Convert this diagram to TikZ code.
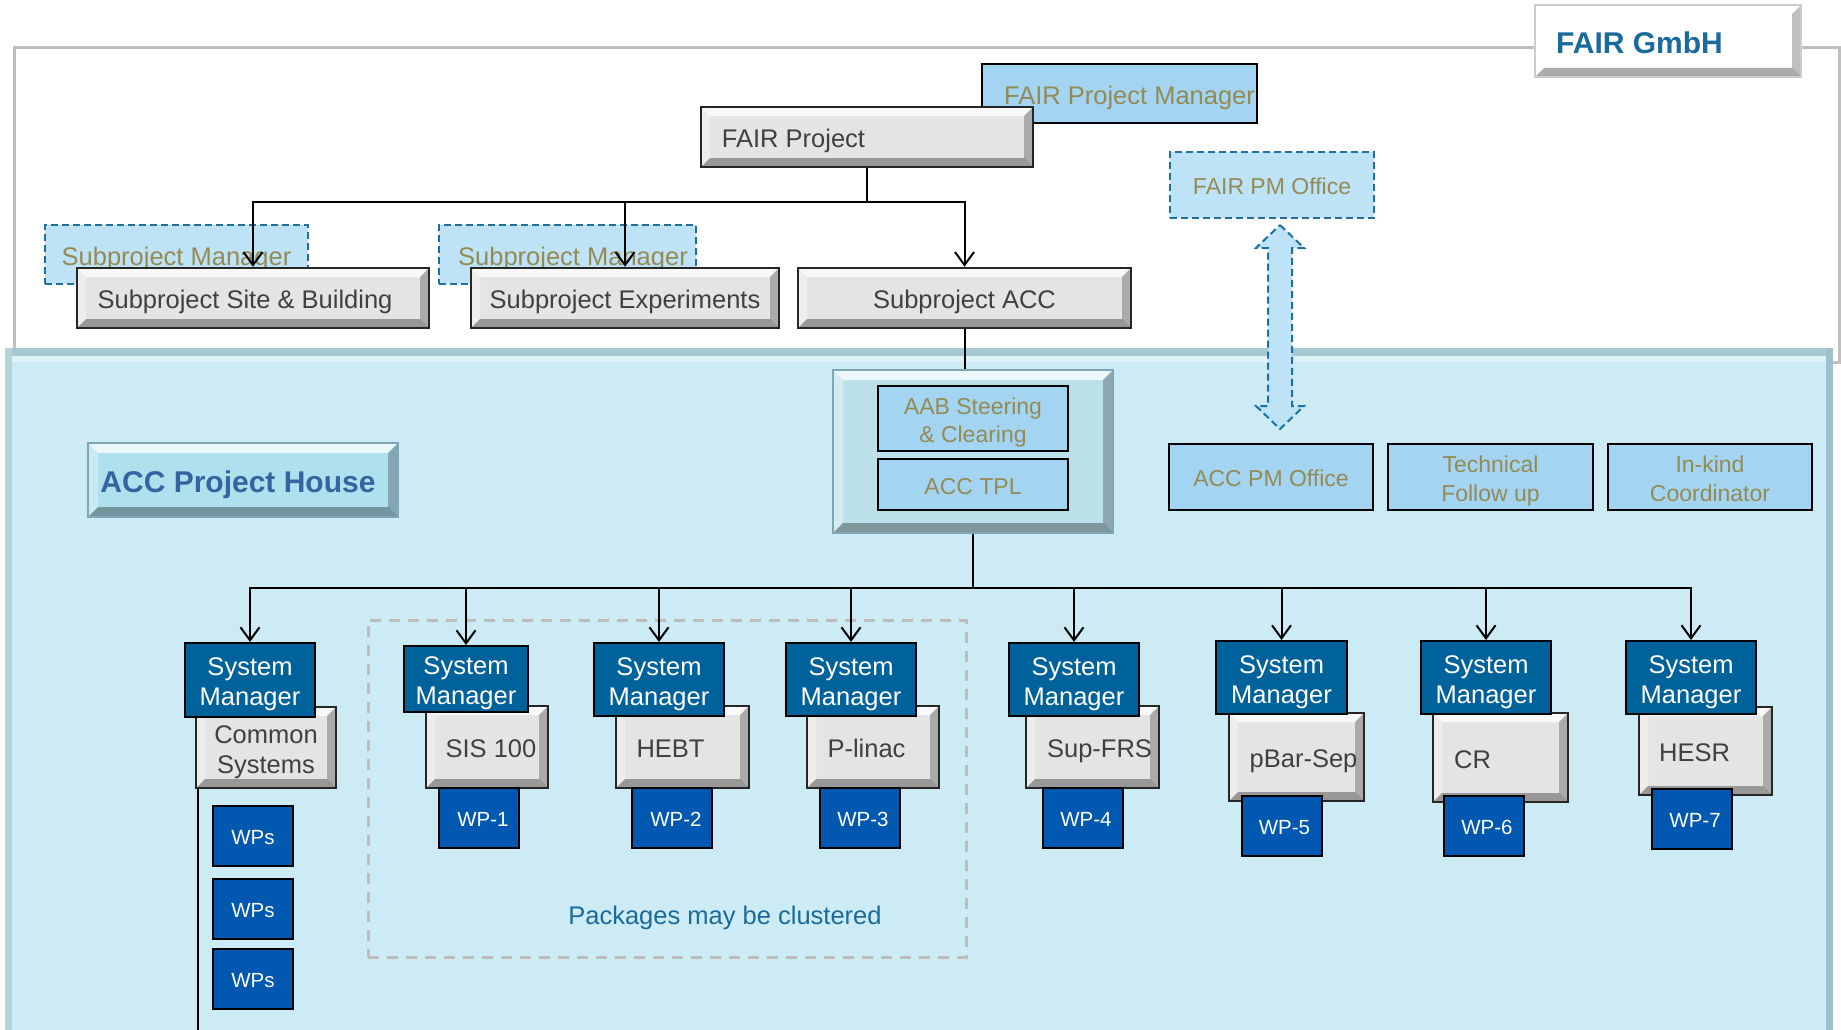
\documentclass[tikz,border=0pt]{standalone}
\usepackage{fontspec}
\setmainfont{Liberation Sans}
\usetikzlibrary{calc,arrows.meta}
\definecolor{bgblue}{HTML}{CCEBF5}
\definecolor{smblue}{HTML}{00629B}
\definecolor{wpblue}{HTML}{0058B0}
\definecolor{boxgray}{HTML}{E4E4E4}
\definecolor{ltblue}{HTML}{A3D5F3}
\definecolor{dashfill}{HTML}{BEE3F7}
\definecolor{dashline}{HTML}{1F6FA0}
\definecolor{olivetxt}{HTML}{948A54}
\definecolor{txtgray}{HTML}{404040}
\definecolor{titleblue}{HTML}{1B6A9C}
\definecolor{houseblue}{HTML}{3366A0}
\definecolor{housefill}{HTML}{AFE0EE}
\definecolor{accfill}{HTML}{BCE0EA}
\definecolor{accline}{HTML}{7DA7B4}
\definecolor{clustergray}{HTML}{BDBDBD}
\definecolor{bandA}{HTML}{A5C9D3}
\definecolor{bandB}{HTML}{DDF3F9}
\definecolor{bandC}{HTML}{B5D3DB}
\definecolor{bandD}{HTML}{9FC0CA}
\newcommand{\FontBig}{\fontsize{25.5}{30}\selectfont}
\newcommand{\FontMid}{\fontsize{23}{28.5}\selectfont}
\newcommand{\FontSm}{\fontsize{20.5}{24}\selectfont}
\newcommand{\FontTitle}{\fontsize{30}{34}\selectfont\bfseries}
\newcommand{\TopStrut}{\rule{0pt}{1.12em}}
\newcommand{\BotStrut}{\rule[-0.27em]{0pt}{0pt}}
\tikzset{
  bevel/.style={path picture={
    \coordinate (bvnw) at (path picture bounding box.north west);
    \coordinate (bvse) at (path picture bounding box.south east);
    \coordinate (bvne) at (bvnw -| bvse);
    \coordinate (bvsw) at (bvnw |- bvse);
    \fill[white,opacity=.75] (bvnw) -- (bvne) -- ($(bvne)+(-#1,#1)$) -- ($(bvnw)+(#1,#1)$) -- cycle;
    \fill[white,opacity=.35] (bvnw) -- ($(bvnw)+(#1,#1)$) -- ($(bvsw)+(#1,-#1)$) -- (bvsw) -- cycle;
    \fill[black,opacity=.33] (bvsw) -- (bvse) -- ($(bvse)+(-#1,-#1)$) -- ($(bvsw)+(#1,-#1)$) -- cycle;
    \fill[black,opacity=.25] (bvne) -- ($(bvne)+(-#1,#1)$) -- ($(bvse)+(-#1,-#1)$) -- (bvse) -- cycle;
  }},
  bevel/.default=9,
  txtbox/.style={execute at begin node=\TopStrut, execute at end node=\BotStrut},
  multiline/.style={execute at begin node={}, execute at end node={}},
  graybox/.style={txtbox, draw=black!85, line width=2.5, fill=boxgray, bevel=9, text=txtgray, font=\FontBig, inner sep=0, align=center},
  smbox/.style={multiline, draw=black, line width=2, fill=smblue, text=white, font=\FontBig, inner sep=0, align=center, minimum width=130, minimum height=73},
  wpbox/.style={txtbox, draw=black, line width=2, fill=wpblue, text=white, font=\FontSm, inner sep=0, minimum width=80, minimum height=60},
  lbbox/.style={txtbox, draw=black, line width=2, fill=ltblue, text=olivetxt, font=\FontMid, inner sep=0, align=center},
  dbox/.style={txtbox, draw=dashline, line width=2, dash pattern=on 7pt off 4pt, fill=dashfill, text=olivetxt, inner sep=0, align=center},
  conn/.style={draw=black, line width=2, -{Straight Barb[length=13pt,width=19pt]}},
  plainline/.style={draw=black, line width=2},
}
\begin{document}
\begin{tikzpicture}[x=1pt,y=-1pt]
\useasboundingbox (0,0) rectangle (1841,1030);
\fill[white] (0,0) rectangle (1841,1030);
% white FAIR GmbH frame
\draw[draw=black!25, line width=3, fill=white] (14,48) rectangle (1839,362);
% ACC region
\fill[bgblue] (5,348) rectangle (1833,1030);
\fill[bandA] (5,348) rectangle (1833,356);
\fill[bandB] (12,356) rectangle (1826,362);
\fill[bandC] (5,348) rectangle (12,1030);
\fill[bandD] (1826,348) rectangle (1833,1030);

% top level
\node[lbbox, font=\FontBig, minimum width=275, minimum height=59] (fpm) at (1119.5,93.5) {\hspace*{20pt}FAIR Project Manager};
\node[graybox, minimum width=332, minimum height=60] (fp) at (867,137) {FAIR Project\hspace*{147pt}};
\node[txtbox, draw=black!20, line width=2, fill=white, bevel=9, text=titleblue, font=\FontTitle, inner sep=0, minimum width=266, minimum height=72] (gmbh) at (1668,41) {FAIR GmbH\hspace*{57pt}};
\node[dbox, font=\FontMid, minimum width=204, minimum height=66] (fpmo) at (1272,185) {FAIR PM Office};

\node[dbox, font=\FontBig, minimum width=263, minimum height=59] (spm1) at (176.5,254.5) {Subproject Manager};
\node[dbox, font=\FontBig, minimum width=257, minimum height=59] (spm2) at (567.5,254.5) {\hspace*{11pt}Subproject Manager};
\node[graybox, minimum width=352, minimum height=60] (ssb) at (253,298) {Subproject Site \& Building\hspace*{16pt}};
\node[graybox, minimum width=308, minimum height=60] (sex) at (625,298) {Subproject Experiments};
\node[graybox, minimum width=333, minimum height=60] (sacc) at (964.5,298) {Subproject ACC};

\draw[conn] (fp.south) -- ++(0,34) -| (ssb.north);
\draw[conn] (fp.south) -- ++(0,34) -| (sex.north);
\draw[conn] (fp.south) -- ++(0,34) -| (sacc.north);

% ACC project house level
\node[txtbox, draw=accline, line width=2, fill=housefill, bevel=10, text=houseblue, font=\FontTitle, inner sep=0, minimum width=310, minimum height=74] (aph) at (243,480) {ACC Project House\hspace*{10pt}};
\node[draw=accline, line width=2.5, fill=accfill, bevel=10, inner sep=0, minimum width=280, minimum height=163] (accbox) at (973,451.5) {};
\node[lbbox, multiline, minimum width=190, minimum height=65] (aab) at (973,418.5) {\TopStrut AAB Steering\\\& Clearing\BotStrut};
\node[lbbox, minimum width=190, minimum height=51] (tpl) at (973,484.5) {ACC TPL};
\node[lbbox, minimum width=204, minimum height=66] (apmo) at (1271,477) {ACC PM Office};
\node[lbbox, multiline, minimum width=205, minimum height=66] (tfu) at (1490.5,477) {\TopStrut Technical\\Follow up\BotStrut};
\node[lbbox, multiline, minimum width=204, minimum height=66] (ikc) at (1710,477) {\TopStrut In-kind\\Coordinator\BotStrut};

\draw[plainline] (sacc.south) -- (sacc.south |- accbox.north);

% double block arrow FAIR PM Office <-> ACC PM Office
\coordinate (dat) at (1280,225);
\coordinate (dab) at (1280,429);
\draw[draw=dashline, line width=2, dash pattern=on 7pt off 4pt, fill=dashfill]
  (dat) -- ($(dat)+(24,23)$) -- ($(dat)+(12,23)$) -- ($(dab)+(12,-23)$) -- ($(dab)+(24,-23)$) -- (dab)
  -- ($(dab)+(-24,-23)$) -- ($(dab)+(-12,-23)$) -- ($(dat)+(-12,23)$) -- ($(dat)+(-24,23)$) -- cycle;

% cluster box
\node[draw=clustergray, line width=3, dash pattern=on 11pt off 8pt, inner sep=0, minimum width=598, minimum height=337] (clu) at (667,788.5) {};
\node[txtbox, text=titleblue, font=\FontBig, inner sep=0] (clutxt) at (725,914) {Packages may be clustered};

% system boxes
\node[graybox, multiline, font=\fontsize{25.5}{30.5}\selectfont, minimum width=140, minimum height=81] (cs) at (266,747.5) {\TopStrut Common\\Systems\BotStrut};
\node[graybox, minimum width=122, minimum height=82] (sis) at (487,747) {\hspace*{8pt}SIS 100};
\node[graybox, minimum width=133, minimum height=82] (hebt) at (682.5,747) {HEBT\hspace*{24pt}};
\node[graybox, minimum width=132, minimum height=82] (plinac) at (873,747) {P-linac\hspace*{13pt}};
\node[graybox, minimum width=133, minimum height=82] (supfrs) at (1092.5,747) {\hspace*{14pt}Sup-FRS};
\node[graybox, minimum width=135, minimum height=88] (pbar) at (1296.5,757) {\hspace*{14pt}pBar-Sep};
\node[graybox, minimum width=135, minimum height=89] (cr) at (1500.5,757.5) {CR\hspace*{56pt}};
\node[graybox, minimum width=133, minimum height=88] (hesr) at (1705.5,751) {HESR\hspace*{22pt}};

\node[wpbox] (wp1) at (479,818) {\hspace*{8pt}WP-1};
\node[wpbox] (wp2) at (672,817.5) {\hspace*{8pt}WP-2};
\node[wpbox] (wp3) at (860,818) {\hspace*{6pt}WP-3};
\node[wpbox] (wp4) at (1083,817.5) {\hspace*{6pt}WP-4};
\node[wpbox] (wp5) at (1281.5,825.5) {\hspace*{6pt}WP-5};
\node[wpbox] (wp6) at (1484,825.5) {\hspace*{6pt}WP-6};
\node[wpbox] (wp7) at (1692,818.5) {\hspace*{6pt}WP-7};
\node[wpbox] (wps1) at (253,836) {WPs};
\node[wpbox] (wps2) at (253,908.5) {WPs};
\node[wpbox] (wps3) at (253,978.5) {WPs};

\node[smbox, minimum height=74] (sm1) at (250,680) {\TopStrut System\\Manager\BotStrut};
\node[smbox, minimum width=124, minimum height=66] (sm2) at (466,679) {\TopStrut System\\Manager\BotStrut};
\node[smbox] (sm3) at (659,679.5) {\TopStrut System\\Manager\BotStrut};
\node[smbox] (sm4) at (851,679.5) {\TopStrut System\\Manager\BotStrut};
\node[smbox] (sm5) at (1074,679.5) {\TopStrut System\\Manager\BotStrut};
\node[smbox, minimum width=131] (sm6) at (1281.5,677.5) {\TopStrut System\\Manager\BotStrut};
\node[smbox] (sm7) at (1486,677.5) {\TopStrut System\\Manager\BotStrut};
\node[smbox] (sm8) at (1691,677.5) {\TopStrut System\\Manager\BotStrut};

\foreach \s in {sm1,sm2,sm3,sm4,sm5,sm6,sm7,sm8}
  \draw[conn] (accbox.south) -- ++(0,54) -| (\s.north);

\coordinate (csend) at (198,1030);
\draw[draw=black, line width=1.5] (cs.south -| csend) -- (csend);
\end{tikzpicture}
\end{document}
